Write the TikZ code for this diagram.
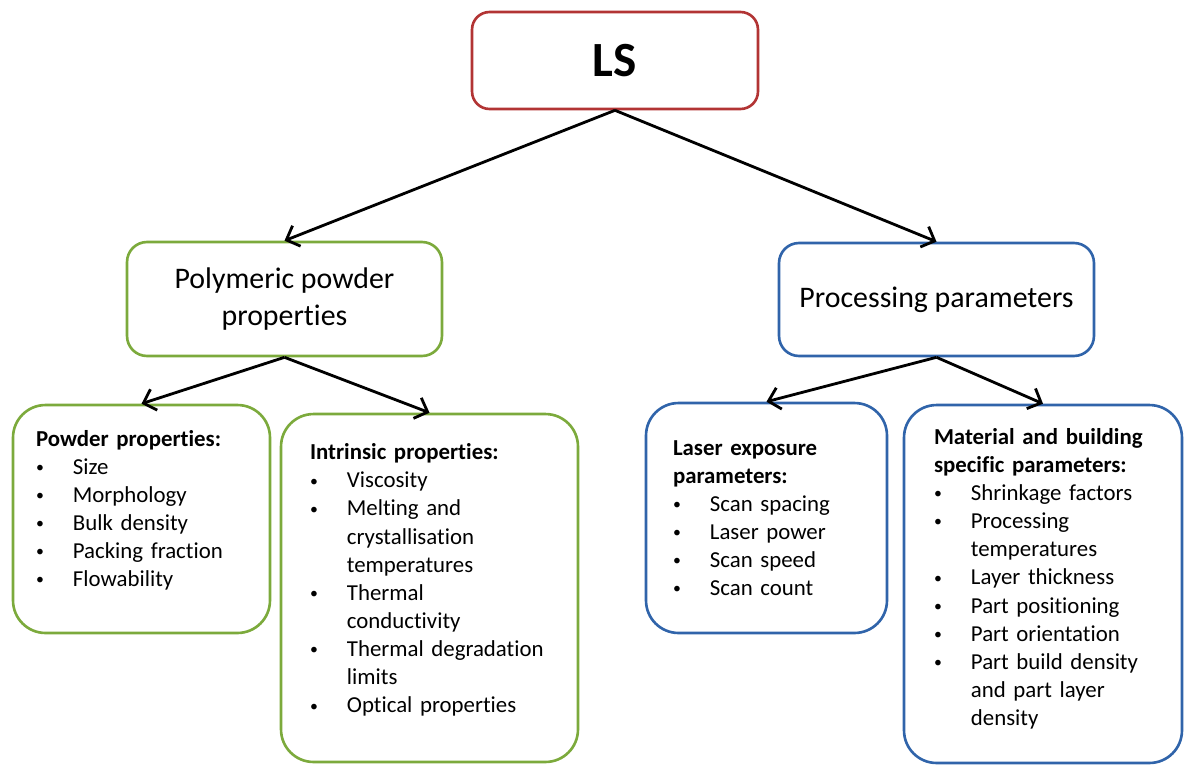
\documentclass[tikz,border=0pt]{standalone}
\usepackage{fontspec}
\setmainfont{Carlito}[Ligatures=NoCommon]
\usetikzlibrary{arrows.meta}
\definecolor{lsred}{RGB}{178,52,52}
\definecolor{ppgreen}{RGB}{124,170,60}
\definecolor{prblue}{RGB}{48,100,170}
\tikzset{
  topblock/.style={draw=lsred, rectangle, rounded corners=0.35cm, line width=1.5pt, font=\fontsize{28}{32}\selectfont\bfseries},
  midblock/.style={draw, rectangle, rounded corners=0.4cm, line width=1.5pt, align=center, font=\fontsize{17}{21}\selectfont},
  leafblock/.style={draw, rectangle, rounded corners=0.65cm, line width=1.5pt, align=left, inner xsep=0pt, font=\fontsize{13}{16}\selectfont},
  link/.style={line width=1.6pt, -{Straight Barb[length=2.2mm,width=4.4mm]}}
}
\newcommand{\bitem}[1]{\par\hangindent=21pt\hangafter=1\noindent\makebox[21pt][l]{\raisebox{1pt}{\fontsize{9}{9}\selectfont\textbullet}}#1}
\newcommand{\bgap}[1]{\par\nointerlineskip\vbox to #1{}}

\begin{document}
\begin{tikzpicture}[x=0.02cm,y=-0.02cm]
    \useasboundingbox (0,0) rectangle (1184,765);

    \node[topblock, minimum width=5.72cm, minimum height=1.94cm] (ls) at (615,60.5) {LS};

    \node[midblock, draw=ppgreen, minimum width=6.3cm, minimum height=2.28cm] (pp) at (284.5,299) {Polymeric powder\\properties};
    \node[midblock, draw=prblue, minimum width=6.3cm, minimum height=2.26cm] (proc) at (936.5,299.5) {Processing parameters};

    \node[leafblock, draw=ppgreen, minimum width=5.14cm, minimum height=4.56cm, text width=4.22cm] (pw) at (141.5,519)
      {\noindent\textbf{Powder properties:}\bitem{Size}\bitem{Morphology}\bitem{Bulk density}\bitem{Packing fraction}\bitem{Flowability}\bgap{10pt}};
    \node[leafblock, draw=ppgreen, minimum width=5.94cm, minimum height=6.96cm, text width=4.78cm] (ip) at (429.5,588)
      {\noindent\textbf{Intrinsic properties:}\bitem{Viscosity}\bitem{Melting and\newline crystallisation\newline temperatures}\bitem{Thermal\newline conductivity}\bitem{Thermal~degradation\newline limits}\bitem{Optical properties}\bgap{9pt}};

    \node[leafblock, draw=prblue, minimum width=4.82cm, minimum height=4.6cm, text width=3.74cm] (le) at (766.5,518)
      {\noindent\textbf{Laser~exposure\newline parameters:}\bitem{Scan spacing}\bitem{Laser power}\bitem{Scan speed}\bitem{Scan count}};
    \node[leafblock, draw=prblue, minimum width=5.56cm, minimum height=7.16cm, text width=4.36cm] (mb) at (1043,584)
      {\noindent\textbf{Material~and~building\newline specific~parameters:}\bitem{Shrinkage factors}\bitem{Processing\newline temperatures}\bitem{Layer thickness}\bitem{Part positioning}\bitem{Part orientation}\bitem{Part~build~density\newline and part layer\newline density}\bgap{6pt}};

    \draw[link] (ls.south) -- (pp.north);
    \draw[link] (ls.south) -- (proc.north);
    \draw[link] (pp.south) -- (pw.north);
    \draw[link] (pp.south) -- (ip.north);
    \draw[link] (proc.south) -- (le.north);
    \draw[link] (proc.south) -- (mb.north);
\end{tikzpicture}
\end{document}
